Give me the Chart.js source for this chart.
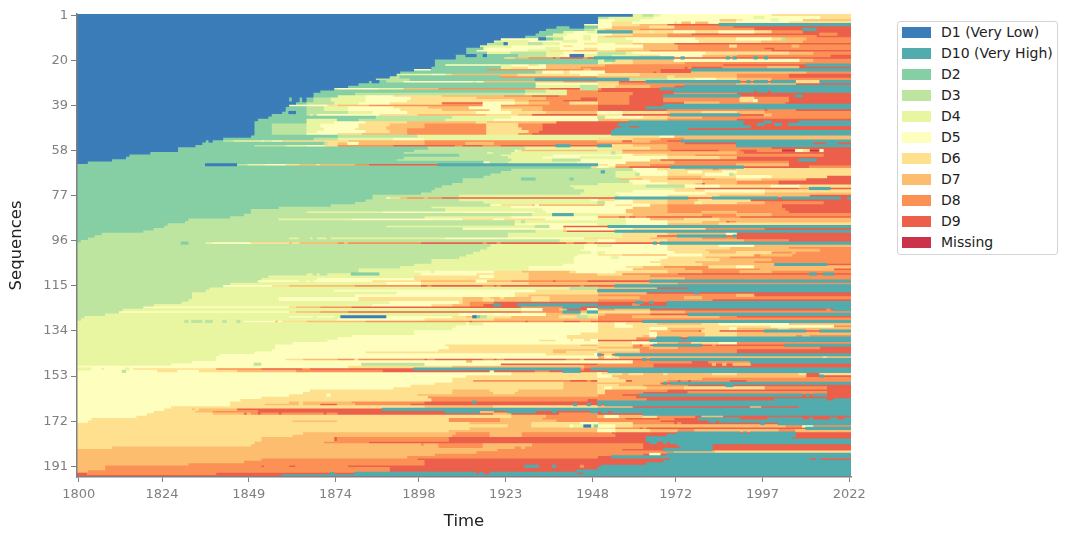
<!DOCTYPE html>
<html>
<head>
<meta charset="utf-8">
<title>Sequence index plot</title>
<script src="https://cdn.jsdelivr.net/npm/chart.js@4"></script>
<style>
    html, body { margin: 0; padding: 0; background: #fff; }
    #wrap { position: relative; width: 1067px; height: 539px; font-family: "DejaVu Sans", sans-serif; }
    #legend { position: absolute; left: 897px; top: 21px; width: 159px; height: 232px; border: 1px solid #d4d4d4; border-radius: 3px; background: #fff; }
    #legend div { position: absolute; left: 43px; font-size: 14px; line-height: 15px; color: #222; white-space: nowrap; }
    #legend span { position: absolute; left: -39px; top: 2px; width: 29px; height: 11px; }
</style>
</head>
<body>
<div id="wrap">
    <canvas id="seqChart" width="1067" height="539"></canvas>
    <div id="legend"></div>
</div>
<script>
// --- data ---
const xTickYears = [1800, 1824, 1849, 1874, 1898, 1923, 1948, 1972, 1997, 2022];
const yTickRows = [1, 20, 39, 58, 77, 96, 115, 134, 153, 172, 191];
const firstYear = 1800;

// legend order, with the letter each state uses in the rows below
const stateKeys = ['a', 'j', 'b', 'c', 'd', 'e', 'f', 'g', 'h', 'i', 'm'];
const stateLabels = ['D1 (Very Low)', 'D10 (Very High)', 'D2', 'D3', 'D4', 'D5', 'D6', 'D7', 'D8', 'D9', 'Missing'];
const stateColors = ['#3a7db8', '#52abac', '#86cfa5', '#bde5a0', '#e9f6a1', '#feffbe', '#fee08f', '#fdbd6f', '#fc9156', '#ec5f4a', '#cb334d'];

// one string per sequence: state letter + column where that spell ends (no number = runs to the end)
const sequences = [
'a160 d163 c166 d168 e200 f',
'a150 c153 d166 e195 d198 e214 f',
'a150 e155 d162 e185 g190 f192 e200 d202 e209 g',
'a150 e154 f160 e172 f173 e174 g177 e178 g182 e185 f190 e205 f',
'a146 e154 f162 g170 i185 j',
'a138 b142 a146 b150 e154 g165 f172 h189 i',
'a135 b146 c149 d150 f152 g162 h195 i209 j213 i',
'a133 b140 d143 e147 d150 j160 f165 d166 f172 e178 f185 e195 f200 h209 i',
'a132 b137 d141 e154 f160 g170 h177 i214 h219 i',
'a129 b135 d140 e146 d148 e150 f152 g170 h213 i',
'a122 e133 a135 b137 c140 e146 d148 e150 d158 e178 f190 e200 f203 c204 g210 h',
'a120 d130 e140 d144 e150 d160 e179 f197 g209 h',
'a118 c123 a124 d130 c134 d139 e146 f150 e155 f160 g172 i',
'a116 d125 e140 f143 e163 g173 h188 f190 h206 g208 h',
'a112 b117 e135 d139 e146 f150 e155 f163 g173 h198 i201 h',
'a112 b115 e130 d136 f143 g150 f155 g165 h200 i',
'a112 b118 d125 c135 d140 e150 c158 d160 e181 f205 g212 h',
'a109 b112 a115 b117 a118 b127 c135 d139 e142 a146 d150 c154 d162 f168 e180 g190 h217 i',
'a109 b123 f126 g130 h137 i138 h139 i146 h147 i149 j172 i174 j175 i187 j188 i189 j190 i195 j196 i198 j199 i',
'a103 b150 d152 b155 f160 g172 e208 g212 h',
'a103 b150 d154 f160 g175 h',
'a103 b106 e122 d125 e130 f132 d133 e135 g152 h186 i210 j',
'a102 b122 d125 f130 e135 g145 h175 i176 h177 i186 h199 g208 i',
'a97 e102 b118 h146 g148 h168 i177 j',
'a93 b132 c134 e140 f142 e152 h166 i167 h168 i177 g210 h',
'a92 d102 e106 f108 g127 f145 e150 f162 g190 h205 i',
'a90 c93 b122 h150 g170 f172 g190 h205 i',
'a86 c96 b132 j159 c170 d178 e184 f190 g200 h',
'a84 b85 a87 b89 c94 e114 f115 e117 g140 h150 g156 i164 j191 i193 j194 i195 j199 i200 j207 f214 j',
'a81 b132 e150 f156 h190 g207 i',
'a78 b132 d145 c150 f155 g165 h172 i175 j',
'a74 d75 e87 d94 g104 h136 i145 c150 h151 i168 j',
'a70 b129 c135 d141 h150 i172 j195 i196 j199 i200 j',
'a68 b80 c129 d141 h160 i172 h190 i',
'a68 b75 d83 e91 f105 g123 h131 i139 h159 i169 j191 i207 j209 i',
'a61 b62 a64 b65 a66 b68 c73 d83 e96 f115 g135 h145 i150 h159 i169 h191 f195 h205 i',
'a61 b62 a64 b65 a66 b68 c73 d83 e95 f126 g130 h140 i150 h159 i169 h191 f195 e196 h205 i',
'a63 b66 c74 d81 e90 f105 i117 e126 f130 g136 h142 f150 h159 i175 g185 h204 i',
'a61 e72 f75 g84 h117 e122 h150 i169 j',
'a60 b66 c71 d78 e91 f101 g113 e122 g134 h150 i164 j',
'a60 b66 c71 d78 e93 f105 g119 e122 f128 g134 h150 i170 h198 i199 h207 i',
'a59 b61 a63 b66 c78 d85 e95 f115 e125 f135 g150 e157 f170 g180 f190 g198 h',
'a56 b66 c67 d68 c69 e87 f98 g118 f127 g131 i150 f157 i171 j191 i198 g200 h',
'a55 b86 c108 d125 e150 c152 e163 f170 g180 h',
'a52 b66 d75 b81 c106 d120 e150 g170 h190 i',
'a51 b66 d74 e83 f95 g115 f118 g138 i150 i159 j192 i198 j200 i208 j',
'a51 b56 c66 d70 e81 f90 g100 h118 f127 h134 i156 j192 i196 j198 i201 j203 i205 j',
'a51 b56 c66 d70 e81 f89 g100 h118 f127 h134 i157 j159 i162 j194 i',
'a51 b56 c66 d71 e80 f89 g95 h118 f128 h134 i155 j176 i',
'a51 b56 c66 d69 e83 f90 g95 h118 f130 h133 i154 j',
'a51 b56 c66 e75 f82 g95 h118 f127 h131 i154 j',
'a50 b75 c98 d154 f168 e172 g',
'a42 b68 c75 d91 e100 d150 f160 g168 h175 g',
'a37 b38 a39 b42 c45 d53 e54 d56 e59 f78 g100 h150 g157 i160 g165 h170 i174 j',
'a36 b71 c72 f75 g78 e81 g100 h112 g120 h175 i190 j212 i216 j219 i',
'a34 b51 c60 d66 e71 f75 h91 i109 h111 i117 h122 i138 j142 i150 j154 f160 g170 h190 j',
'a29 b101 c129 d154 f165 g170 h200 i',
'a29 b97 c126 e127 d128 g150 f157 h171 i185 h191 i196 h203 m207 e209 f211 m214 e215 i',
'a21 b94 c118 d120 c125 d154 c155 d157 g190 h192 i',
'a15 b110 c122 d137 e160 f170 g178 h215 i',
'a14 b94 c124 d134 e145 d157 e170 f185 g190 i',
'a10 b92 c125 d137 c145 e165 g168 i208 j213 i',
'a3 b117 e119 c124 d144 e158 g172 h205 i',
'b37 a46 c49 d54 e60 f64 g69 f70 g80 h84 i104 j150 f153 e155 g165 h190 g205 i',
'b148 f150 e153 f155 h159 i171 j192 i211 h',
'b125 c160 e167 f175 g183 h185 g190 f',
'b122 c151 j152 c155 d161 e170 f176 e180 f186 e190 f',
'b119 c155 d161 c162 e170 f181 e188 c189 f',
'b117 c155 d161 f170 g180 f190 e200 f216 i',
'b111 c128 b132 c142 b143 c156 g163 f170 h184 g190 f197 g210 i',
'b111 c159 e165 f180 g190 h202 i',
'b108 c150 d160 e170 f178 g180 i181 g190 h202 i',
'b105 c142 d164 c175 e185 f200 e208 f',
'b103 c143 d172 f178 i208 h211 j217 i',
'b102 c146 d160 e172 f181 e198 f',
'b99 c145 d155 e181 f198 g',
'b85 c110 d156 e170 f185 g211 i',
'b85 c89 e90 f93 g95 h100 g101 h105 i155 j176 i183 j202 i203 j220 i222 j',
'b83 c110 d148 e150 f155 e160 f170 g179 f194 i',
'b80 c117 d150 c152 e160 f170 g178 d180 f190 g198 h215 i',
'b73 c119 e122 f131 g132 e133 g152 e155 f160 e165 g170 h203 i',
'b58 c102 d125 e160 g170 h203 i',
'b50 c106 d134 e158 g170 h204 i',
'b50 c66 d88 e132 d135 e158 g170 h180 g190 h205 i',
'b48 c131 d137 j143 d150 f160 g180 h190 g200 h',
'b44 c100 d125 e150 h156 i158 h159 i161 h164 i183 h191 i',
'b32 c58 d79 e111 f120 e123 f135 e150 d158 e165 g175 f185 g',
'b31 c126 d128 c129 d158 e170 f180 g187 i188 h190 g',
'b26 c126 e150 d158 e170 g185 f',
'b25 c89 d132 c136 e140 i153 j',
'b22 c111 e140 f141 e160 f181 h198 i',
'b19 c132 d140 g141 i155 j',
'b7 c124 d157 f170 g187 e190 i',
'b5 c124 d157 f167 i173 j187 i189 j190 i',
'b3 c61 d64 c67 d68 c69 d72 c73 d106 e146 f165 g180 h190 i',
'b1 c139 d150 e155 f170 g192 h205 i',
'c30 b32 c37 d39 e50 f61 g62 f64 g75 h77 g78 h99 i117 h118 i121 h122 i141 h143 i147 h149 i166 j167 i168 j',
'c119 d146 e150 d154 e170 f185 e195 g',
'c118 d146 e170 f188 g205 h',
'c116 d145 e170 f181 g214 h',
'c114 d148 e150 d152 e172 f182 g190 f200 h206 g207 h',
'c112 d144 e150 f157 g170 e180 f195 h197 g206 h',
'c110 d143 e154 d156 e170 f181 g188 h',
'c102 d143 e168 f185 g200 h',
'c102 d143 e165 f178 g195 h',
'c97 d140 e168 f180 g201 j216 i',
'c93 d130 e158 f163 g169 h182 f190 e195 g',
'c81 d130 e160 g175 h197 g218 i',
'c81 d97 e102 d103 e120 f128 g142 f144 e155 f170 g180 h191 g200 h',
'c66 d68 c69 d70 c72 d79 b87 d99 e115 f130 g150 f157 h173 i211 j213 i215 j218 i',
'c55 d97 f116 e120 f130 g165 h',
'c53 d69 e97 f130 g175 h',
'c52 e64 d66 e67 d68 e85 f99 g115 e118 g125 h137 i138 h147 i165 j',
'c44 d89 e99 f130 g173 h',
'c42 e56 f61 g80 h99 i101 h102 i117 h120 i121 h122 i145 h146 i155 j',
'c38 d142 c150 g167 i176 j',
'c37 d74 e132 f150 j',
'c33 d92 e126 f150 g164 i178 j179 i',
'c33 d80 e126 f130 g150 h190 g195 i',
'c33 d58 e81 f111 g117 f119 g122 f123 g131 f136 g162 h175 g180 h',
'c32 d58 e81 f111 g117 f120 g131 f136 g150 h183 i',
'c30 d90 e110 f111 g113 h120 i150 i161 j163 i165 j166 i170 j',
'c22 d85 e102 f108 g113 h117 i120 j122 i127 j150 i160 h162 i170 j',
'c19 e61 f63 g70 h79 i128 h140 j145 i150 j',
'c13 d128 e134 h139 g141 i147 e150 h155 g165 i216 h217 i218 j',
'c12 e61 f63 g70 h78 i128 h140 j145 g147 j150 f165 g175 h',
'c8 d110 e135 g145 d150 g152 h165 i176 j',
'c2 d61 e68 d69 e74 d76 a89 e108 f112 g114 a115 b116 c118 d120 f125 g139 f144 c147 f150 h160 g185 h190 i',
'c1 d75 e100 f120 g150 h',
'd31 c32 d33 c36 d37 c39 d42 c43 d46 c47 d48 e57 g58 e59 f66 g83 h113 i114 h129 i130 h140 i145 h148 i163 j',
'd112 e113 d117 e150 f155 e158 f167 g180 f185 e205 g',
'd109 e150 f155 e160 f200 e218 h',
'd108 e150 f165 e170 g181 f188 e190 g202 f205 g',
'd97 e150 f165 g171 h179 i180 f185 i198 j210 i214 j',
'd97 e145 f165 e167 g181 f190 g',
'd79 e141 f163 g165 e167 g181 f190 g207 h209 g211 h',
'd75 e141 f161 h167 j174 i176 j',
'd72 e133 f138 e142 f143 e146 f148 e150 i165 j',
'd62 e150 f160 e167 g173 h177 f185 e190 h',
'd57 e106 f145 g150 f160 h162 i163 g165 i166 j180 i183 h184 i204 j',
'd57 e107 f150 g160 h165 g173 h214 i',
'd56 e104 f137 g150 f162 h190 i',
'd51 e83 f137 g141 f150 g162 h190 i',
'd41 e135 f149 e150 j151 i152 f154 i155 j',
'd40 e150 g152 e154 d156 g215 f216 g',
'd40 e60 f65 g75 h80 f81 h100 i101 h103 i117 h120 i121 h123 i141 h145 g146 i163 j164 i165 j',
'd33 e112 g114 e160 h177 i182 h194 j',
'd27 e51 c53 e82 c100 e122 i150 h166 i183 g184 i186 g187 i189 g194 i',
'e78 f108 g146 h166 i',
'd4 e7 f8 e14 d15 e16 f40 h53 i65 h67 i97 j145 h146 i148 j',
'e13 c14 e23 f29 e35 f46 g63 h88 i119 e120 i132 h136 i140 j145 i153 j',
'e125 f150 e151 f157 g159 f163 g169 f170 g183 f190 g208 f210 i214 f',
'e112 f150 e154 g210 i214 j215 i',
'e108 f156 g180 h',
'e108 f114 h142 i147 h148 i150 f158 i160 g170 h173 i174 h176 i177 h188 i193 h',
'e103 f140 g168 i169 j170 i171 j',
'e96 f140 g150 f156 g163 h176 i187 j189 i',
'e91 f140 g150 f152 e154 f164 g175 f198 h216 i',
'e67 f108 g119 f127 g150 f152 h170 i',
'e65 f108 g120 f126 g150 f152 h163 i176 h216 i',
'e61 f72 e73 f98 g150 h157 i162 j209 i210 j211 i212 j216 i',
'e53 f101 h161 i',
'e47 f102 h147 i150 h164 i201 j216 i218 j',
'e44 f61 g64 f65 g79 h100 i114 j115 i150 j',
'e44 f54 g64 f65 g70 i75 g80 h96 i143 j144 i147 j148 i150 j151 i152 j',
'e27 f100 g120 f150 g160 i194 g197 i208 j',
'e25 f33 g34 f35 g46 i88 j',
'e22 f34 g39 h52 i106 j116 g120 i124 j132 i137 j138 i148 j150 i151 j153 i154 j',
'e20 f39 g48 i49 g50 h52 i53 h58 i59 h71 i72 h75 i120 g125 i139 h150 i163 j',
'e17 f125 g135 h150 g152 e156 g163 f167 h178 i180 g186 i',
'e4 f107 h122 g134 h158 i168 h172 i179 j191 i199 j209 i211 j212 i217 j219 i221 j',
'e3 f62 g75 f107 h122 g138 h168 i182 j184 i185 j',
'f113 g131 f145 e150 f160 h172 i173 h174 i197 j198 i202 j',
'f124 g131 f142 e143 d146 a148 d149 b150 e155 f160 g204 h209 e212 h',
'f113 g150 f155 h162 i163 h164 i210 j',
'f107 g150 e155 f165 g173 h178 g202 h207 g',
'f65 g109 h119 g128 h154 i173 j191 i192 j193 i194 j207 i',
'f62 g108 h119 g128 h155 i170 j207 i',
'f53 g74 i75 h107 i164 j206 i',
'f53 g74 i75 h107 i164 j',
'f51 g71 h84 i165 j167 i169 j170 i171 j',
'f50 g99 h100 g104 h117 g131 h163 i173 j183 i',
'f10 g104 h117 g126 h128 g129 h163 i174 j183 i',
'g121 h157 i169 j183 i',
'g115 h172 g184 f',
'g103 h163 i165 e168 i170 j',
'g95 h150 i154 j',
'g53 h98 i171 j211 i213 j214 i',
'g48 h100 i169 j',
'g32 h100 i164 j',
'g8 h53 i54 h61 i63 h78 i129 j133 i137 j138 i145 h146 i151 j',
'g8 h90 i150 j',
'g3 h90 i144 j',
'i3 h40 i73 j74 i80 j115 i116 j117 i119 j144 i146 j',
'i59 j'
];

// --- turn the spell strings into one floating-bar dataset per state ---
const rowLabels = sequences.map((s, i) => String(i + 1));

const datasets = stateKeys.map((key, idx) => ({
    label: stateLabels[idx],
    backgroundColor: stateColors[idx],
    data: [],
    grouped: false,
    barPercentage: 1,
    categoryPercentage: 1,
    inflateAmount: 0.4
}));

sequences.forEach((row, r) => {
    let start = 0;
    row.split(' ').forEach(token => {
        const end = token.length > 1 ? parseInt(token.slice(1)) : 223;
        if (end <= start) return;
        datasets[stateKeys.indexOf(token[0])].data.push({
            x: [firstYear - 0.5 + start, firstYear - 0.5 + end],
            y: rowLabels[r]
        });
        start = end;
    });
});

// --- chart ---
const grey = '#808080';

new Chart(document.getElementById('seqChart'), {
    type: 'bar',
    data: { labels: rowLabels, datasets: datasets },
    options: {
        indexAxis: 'y',
        responsive: false,
        animation: false,
        layout: { padding: { left: 0, top: 14, right: 216, bottom: 0 } },
        plugins: { legend: { display: false }, tooltip: { enabled: false } },
        scales: {
            x: {
                type: 'linear',
                min: firstYear - 0.5,
                max: 2022.5,
                afterBuildTicks: (axis) => { axis.ticks = xTickYears.map(v => ({ value: v })); },
                afterFit: (axis) => { axis.height = 62; },
                grid: { drawOnChartArea: false, tickLength: 5, tickColor: grey, tickWidth: 1 },
                border: { color: grey, width: 1.5, z: 1 },
                ticks: { color: grey, font: { family: 'DejaVu Sans', size: 13 }, maxRotation: 0, padding: 5, autoSkip: false, callback: (v) => String(v) },
                title: { display: true, text: 'Time', color: '#222', font: { family: 'DejaVu Sans', size: 16.5 }, padding: { top: 0, bottom: 7 } }
            },
            y: {
                type: 'category',
                afterBuildTicks: (axis) => { axis.ticks = yTickRows.map(r => ({ value: r - 1 })); },
                afterFit: (axis) => { axis.width = 77; },
                grid: { offset: false, drawOnChartArea: false, tickLength: 6, tickColor: grey, tickWidth: 1 },
                border: { color: grey, width: 1.5, z: 1 },
                ticks: { color: grey, font: { family: 'DejaVu Sans', size: 13 }, padding: 3, autoSkip: false },
                title: { display: true, text: 'Sequences', color: '#222', font: { family: 'DejaVu Sans', size: 16.5 }, padding: { top: 7, bottom: 0 } }
            }
        }
    }
});

// --- legend box ---
const legendEl = document.getElementById('legend');
stateLabels.forEach((label, i) => {
    const item = document.createElement('div');
    item.style.top = (3 + i * 21) + 'px';
    item.textContent = label;
    const swatch = document.createElement('span');
    swatch.style.background = stateColors[i];
    item.appendChild(swatch);
    legendEl.appendChild(item);
});
</script>
</body>
</html>
